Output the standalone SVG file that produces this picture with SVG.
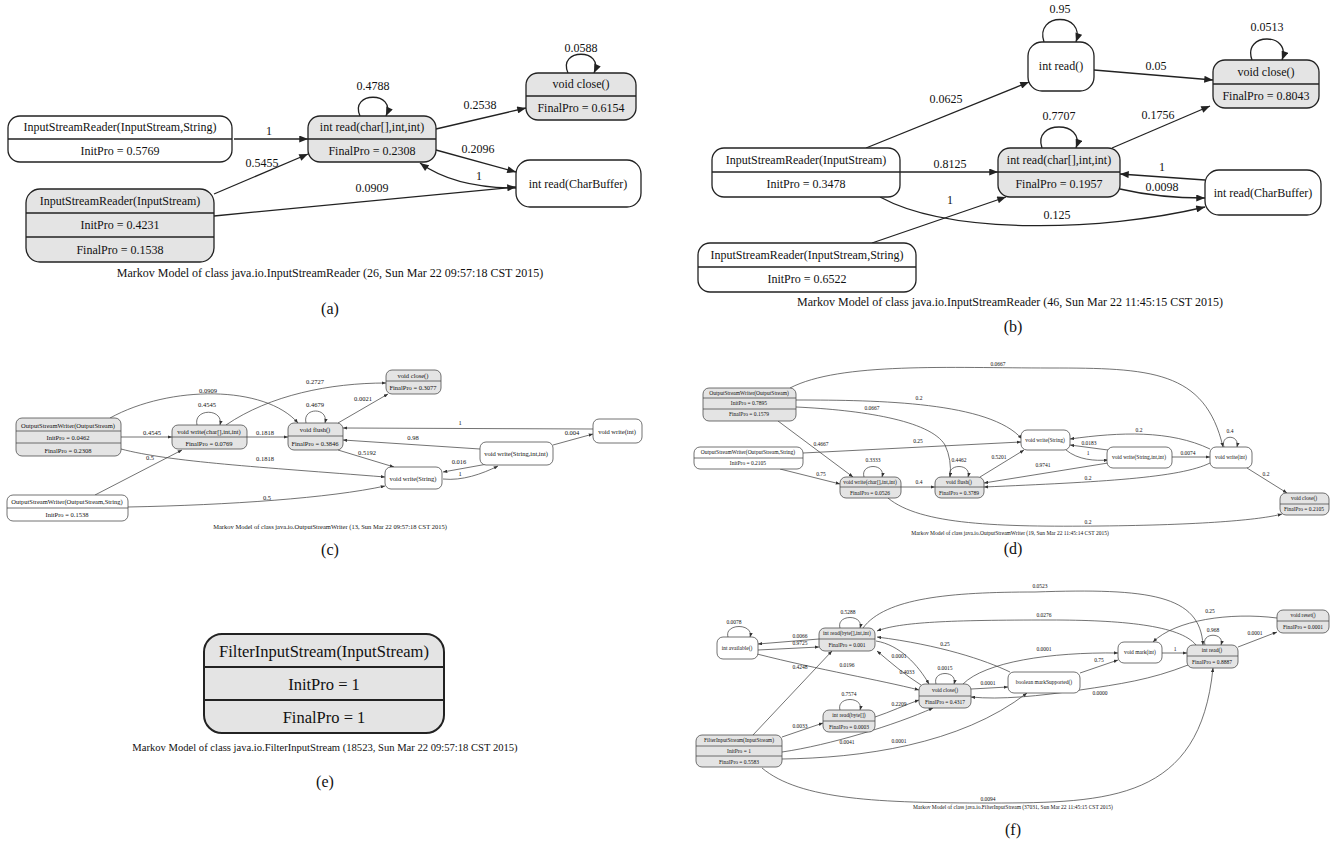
<svg xmlns="http://www.w3.org/2000/svg" width="1330" height="841" viewBox="0 0 1330 841">
<defs>
<style>
text{font-family:"Liberation Serif","Times New Roman",serif;text-anchor:middle;dominant-baseline:central;fill:#111}
.bw,.bg{stroke:#222;stroke-width:1.3}
.bw,.sw{fill:#fff}.bg,.sg{fill:#e4e4e4}
.sw,.sg{stroke:#444;stroke-width:0.75}
.dv{stroke:#222;stroke-width:1.3}
.ds{stroke:#444;stroke-width:0.75}
.eL path{fill:none;stroke:#222;stroke-width:1.3;marker-end:url(#A)}
.eS path{fill:none;stroke:#444;stroke-width:0.75;marker-end:url(#S)}
.ta text{font-size:12px}
.tc text{font-size:6.5px}
.td text{font-size:5.5px}
.tf text{font-size:5.5px}
.te text{font-size:16.5px}
</style>
<marker id="A" viewBox="0 0 10 8" refX="10" refY="4" markerWidth="10" markerHeight="7" markerUnits="userSpaceOnUse" orient="auto"><path d="M0,0L10,4L0,8z" fill="#222"/></marker>
<marker id="S" viewBox="0 0 10 8" refX="10" refY="4" markerWidth="4.5" markerHeight="3.4" markerUnits="userSpaceOnUse" orient="auto"><path d="M0,0L10,4L0,8z" fill="#333"/></marker>
</defs>
<rect width="1330" height="841" fill="#fff"/>

<!-- ===== (a) ===== -->
<g id="panel-a" class="ta">
<g id="a-edges" class="eL">
<path d="M234,139 L308,139"/>
<path d="M214,194 L308,154"/>
<path d="M214,216 L516,187"/>
<path d="M436,129 L526,108"/>
<path d="M436,150 L516,172"/>
<path d="M516,188 C478,188 445,181 420,163"/>
<path d="M360,116 C349,91 397,91 386,116"/>
<path d="M568,73 C557,48 605,48 594,73"/>
<text x="269" y="131">1</text>
<text x="262" y="163">0.5455</text>
<text x="372" y="188">0.0909</text>
<text x="480" y="105">0.2538</text>
<text x="478" y="149">0.2096</text>
<text x="479" y="176">1</text>
<text x="373" y="86">0.4788</text>
<text x="581" y="48">0.0588</text>
</g>
<g id="a-isr-string"><rect class="bw" x="8" y="116" width="224" height="46" rx="12"/><line class="dv" x1="8" y1="139" x2="232" y2="139"/><text x="120" y="127">InputStreamReader(InputStream,String)</text><text x="120" y="151">InitPro = 0.5769</text></g>
<g id="a-read-char"><rect class="bg" x="308" y="116" width="128" height="46" rx="12"/><line class="dv" x1="308" y1="139" x2="436" y2="139"/><text x="372" y="127">int read(char[],int,int)</text><text x="372" y="151">FinalPro = 0.2308</text></g>
<g id="a-close"><rect class="bg" x="526" y="73" width="110" height="47" rx="12"/><line class="dv" x1="526" y1="96" x2="636" y2="96"/><text x="581" y="84">void close()</text><text x="581" y="108">FinalPro = 0.6154</text></g>
<g id="a-read-charbuffer"><rect class="bw" x="516" y="160" width="125" height="47" rx="14"/><text x="578" y="184">int read(CharBuffer)</text></g>
<g id="a-isr"><rect class="bg" x="26" y="189" width="188" height="73" rx="14"/><line class="dv" x1="26" y1="213" x2="214" y2="213"/><line class="dv" x1="26" y1="237" x2="214" y2="237"/><text x="120" y="201">InputStreamReader(InputStream)</text><text x="120" y="225">InitPro = 0.4231</text><text x="120" y="250">FinalPro = 0.1538</text></g>
<text x="330" y="273">Markov Model of class java.io.InputStreamReader (26, Sun Mar 22 09:57:18 CST 2015)</text>
<text x="330" y="308" style="font-size:16px">(a)</text>
</g>

<!-- ===== (b) ===== -->
<g id="panel-b" class="ta">
<g id="b-edges" class="eL">
<path d="M866,148 L1029,82"/>
<path d="M1094,70 L1213,80"/>
<path d="M900,172 L998,172"/>
<path d="M872,243 L1006,197"/>
<path d="M1112,148 L1210,106"/>
<path d="M1205,180 L1120,174"/>
<path d="M1120,189 C1150,196 1180,198 1205,198"/>
<path d="M880,197 C950,235 1100,232 1205,207"/>
<path d="M1044,42 C1034,12 1086,12 1076,42"/>
<path d="M1252,60 C1242,32 1292,32 1282,60"/>
<path d="M1042,148 C1032,120 1086,120 1076,148"/>
<text x="946" y="99">0.0625</text>
<text x="1156" y="66">0.05</text>
<text x="950" y="164">0.8125</text>
<text x="950" y="200">1</text>
<text x="1158" y="115">0.1756</text>
<text x="1162" y="167">1</text>
<text x="1162" y="187">0.0098</text>
<text x="1057" y="215">0.125</text>
<text x="1060" y="9">0.95</text>
<text x="1267" y="27">0.0513</text>
<text x="1059" y="116">0.7707</text>
</g>
<g id="b-read"><rect class="bw" x="1028" y="42" width="66" height="49" rx="14"/><text x="1061" y="66">int read()</text></g>
<g id="b-close"><rect class="bg" x="1213" y="60" width="106" height="48" rx="12"/><line class="dv" x1="1213" y1="84" x2="1319" y2="84"/><text x="1266" y="72">void close()</text><text x="1266" y="96">FinalPro = 0.8043</text></g>
<g id="b-read-char"><rect class="bg" x="998" y="148" width="122" height="49" rx="12"/><line class="dv" x1="998" y1="172" x2="1120" y2="172"/><text x="1059" y="160">int read(char[],int,int)</text><text x="1059" y="184">FinalPro = 0.1957</text></g>
<g id="b-isr"><rect class="bw" x="712" y="148" width="188" height="49" rx="12"/><line class="dv" x1="712" y1="172" x2="900" y2="172"/><text x="806" y="160">InputStreamReader(InputStream)</text><text x="806" y="184">InitPro = 0.3478</text></g>
<g id="b-isr-string"><rect class="bw" x="698" y="243" width="218" height="49" rx="12"/><line class="dv" x1="698" y1="267" x2="916" y2="267"/><text x="807" y="255">InputStreamReader(InputStream,String)</text><text x="807" y="279">InitPro = 0.6522</text></g>
<g id="b-read-charbuffer"><rect class="bw" x="1205" y="170" width="116" height="45" rx="14"/><text x="1263" y="193">int read(CharBuffer)</text></g>
<text x="1010" y="302">Markov Model of class java.io.InputStreamReader (46, Sun Mar 22 11:45:15 CST 2015)</text>
<text x="1013" y="326" style="font-size:16px">(b)</text>
</g>

<!-- ===== (c) ===== -->
<g id="panel-c" class="tc">
<g id="c-edges" class="eS">
<path d="M121,437 L172,437"/>
<path d="M95,495 L182,450"/>
<path d="M110,418 C170,385 265,385 298,423"/>
<path d="M226,425 C270,395 330,383 386,383"/>
<path d="M247,437 L288,437"/>
<path d="M338,423 L388,394"/>
<path d="M338,450 L394,467"/>
<path d="M121,449 C170,462 260,467 385,477"/>
<path d="M128,507 C230,505 330,498 385,486"/>
<path d="M593,429 L343,428"/>
<path d="M480,449 L343,440"/>
<path d="M553,445 L593,434"/>
<path d="M493,463 L443,472"/>
<path d="M443,479 C462,481 482,474 498,466"/>
<path d="M197,425 C193,408 224,408 220,425"/>
<path d="M306,423 C302,407 329,407 325,423"/>
<text x="152" y="432">0.4545</text>
<text x="150" y="457">0.5</text>
<text x="208" y="390">0.0909</text>
<text x="315" y="381">0.2727</text>
<text x="265" y="432">0.1818</text>
<text x="363" y="398">0.0021</text>
<text x="367" y="452">0.5192</text>
<text x="265" y="458">0.1818</text>
<text x="267" y="497">0.5</text>
<text x="460" y="422">1</text>
<text x="413" y="437">0.98</text>
<text x="572" y="432">0.004</text>
<text x="459" y="461">0.016</text>
<text x="460" y="473">1</text>
<text x="207" y="404">0.4545</text>
<text x="315" y="404">0.4679</text>
</g>
<g id="c-osw"><rect class="sg" x="16" y="418" width="105" height="38" rx="6"/><line class="ds" x1="16" y1="431" x2="121" y2="431"/><line class="ds" x1="16" y1="443" x2="121" y2="443"/><text x="68" y="425">OutputStreamWriter(OutputStream)</text><text x="68" y="437">InitPro = 0.0462</text><text x="68" y="450">FinalPro = 0.2308</text></g>
<g id="c-write-char"><rect class="sg" x="172" y="425" width="75" height="24" rx="6"/><line class="ds" x1="172" y1="437" x2="247" y2="437"/><text x="209" y="431">void write(char[],int,int)</text><text x="209" y="443">FinalPro = 0.0769</text></g>
<g id="c-flush"><rect class="sg" x="288" y="423" width="55" height="27" rx="6"/><line class="ds" x1="288" y1="436" x2="343" y2="436"/><text x="315" y="429">void flush()</text><text x="315" y="443">FinalPro = 0.3846</text></g>
<g id="c-close"><rect class="sg" x="386" y="370" width="55" height="24" rx="6"/><line class="ds" x1="386" y1="381" x2="441" y2="381"/><text x="413" y="375">void close()</text><text x="413" y="387">FinalPro = 0.3077</text></g>
<g id="c-write-string"><rect class="sw" x="385" y="467" width="57" height="22" rx="6"/><text x="413" y="478">void write(String)</text></g>
<g id="c-write-string-ii"><rect class="sw" x="480" y="442" width="73" height="23" rx="6"/><text x="516" y="453">void write(String,int,int)</text></g>
<g id="c-write-int"><rect class="sw" x="593" y="419" width="49" height="24" rx="6"/><text x="617" y="431">void write(int)</text></g>
<g id="c-osw-string"><rect class="sw" x="7" y="495" width="121" height="26" rx="6"/><line class="ds" x1="7" y1="508" x2="128" y2="508"/><text x="67" y="501">OutputStreamWriter(OutputStream,String)</text><text x="67" y="514">InitPro = 0.1538</text></g>
<text x="330" y="526">Markov Model of class java.io.OutputStreamWriter (13, Sun Mar 22 09:57:18 CST 2015)</text>
<text x="330" y="549" style="font-size:16px">(c)</text>
</g>

<!-- ===== (d) ===== -->
<g id="panel-d" class="td">
<g id="d-edges" class="eS">
<path d="M790,388 C840,362 950,368 1050,368 C1150,368 1205,370 1223,447"/>
<path d="M796,400 C880,400 990,402 1022,439"/>
<path d="M796,407 C860,410 930,420 945,445 Q952,460 950,477"/>
<path d="M778,421 L853,477"/>
<path d="M803,453 L1021,442"/>
<path d="M780,469 L840,484"/>
<path d="M901,487 L935,487"/>
<path d="M888,498 C920,525 1000,527 1100,526 C1200,525 1260,520 1282,514"/>
<path d="M980,477 L1024,450"/>
<path d="M1108,450 L1070,445"/>
<path d="M1066,450 C1078,460 1095,461 1108,460"/>
<path d="M1108,463 L984,483"/>
<path d="M1210,463 C1180,478 1100,482 984,487"/>
<path d="M1210,449 C1170,430 1120,432 1070,439"/>
<path d="M1172,457 L1210,457"/>
<path d="M1247,468 L1287,493"/>
<path d="M864,477 C860,463 886,463 882,477"/>
<path d="M950,477 C946,463 972,463 968,477"/>
<path d="M1224,447 C1220,434 1240,434 1237,447"/>
<text x="998" y="364">0.0667</text>
<text x="919" y="398">0.2</text>
<text x="872" y="408">0.0667</text>
<text x="821" y="444">0.4667</text>
<text x="918" y="441">0.25</text>
<text x="821" y="474">0.75</text>
<text x="919" y="482">0.4</text>
<text x="1088" y="522">0.2</text>
<text x="999" y="457">0.5201</text>
<text x="1089" y="443">0.0183</text>
<text x="1088" y="453">1</text>
<text x="1043" y="465">0.9741</text>
<text x="1088" y="478">0.2</text>
<text x="1139" y="430">0.2</text>
<text x="1188" y="453">0.0074</text>
<text x="1266" y="474">0.2</text>
<text x="873" y="460">0.3333</text>
<text x="959" y="460">0.4462</text>
<text x="1230" y="431">0.4</text>
</g>
<g id="d-osw"><rect class="sg" x="703" y="388" width="93" height="33" rx="6"/><line class="ds" x1="703" y1="398" x2="796" y2="398"/><line class="ds" x1="703" y1="409" x2="796" y2="409"/><text x="749" y="393">OutputStreamWriter(OutputStream)</text><text x="749" y="403">InitPro = 0.7895</text><text x="749" y="414">FinalPro = 0.1579</text></g>
<g id="d-osw-string"><rect class="sw" x="694" y="447" width="109" height="22" rx="6"/><line class="ds" x1="694" y1="458" x2="803" y2="458"/><text x="748" y="452">OutputStreamWriter(OutputStream,String)</text><text x="748" y="463">InitPro = 0.2105</text></g>
<g id="d-write-char"><rect class="sg" x="840" y="477" width="61" height="21" rx="6"/><line class="ds" x1="840" y1="487" x2="901" y2="487"/><text x="870" y="482">void write(char[],int,int)</text><text x="870" y="493">FinalPro = 0.0526</text></g>
<g id="d-flush"><rect class="sg" x="935" y="477" width="49" height="21" rx="6"/><line class="ds" x1="935" y1="487" x2="984" y2="487"/><text x="959" y="482">void flush()</text><text x="959" y="493">FinalPro = 0.3789</text></g>
<g id="d-write-string"><rect class="sw" x="1021" y="430" width="49" height="20" rx="6"/><text x="1045" y="440">void write(String)</text></g>
<g id="d-write-string-ii"><rect class="sw" x="1107" y="447" width="65" height="21" rx="6"/><text x="1139" y="457">void write(String,int,int)</text></g>
<g id="d-write-int"><rect class="sw" x="1210" y="447" width="42" height="21" rx="6"/><text x="1231" y="457">void write(int)</text></g>
<g id="d-close"><rect class="sg" x="1280" y="493" width="49" height="22" rx="6"/><line class="ds" x1="1280" y1="504" x2="1329" y2="504"/><text x="1304" y="498">void close()</text><text x="1304" y="509">FinalPro = 0.2105</text></g>
<text x="1010" y="533">Markov Model of class java.io.OutputStreamWriter (19, Sun Mar 22 11:45:14 CST 2015)</text>
<text x="1013" y="548" style="font-size:16px">(d)</text>
</g>

<!-- ===== (e) ===== -->
<g id="panel-e" class="te">
<g id="e-filter"><rect x="204" y="634" width="240" height="99" rx="18" fill="#e4e4e4" stroke="#222" stroke-width="2"/><line x1="204" y1="667" x2="444" y2="667" stroke="#222" stroke-width="2"/><line x1="204" y1="700" x2="444" y2="700" stroke="#222" stroke-width="2"/><text x="324" y="651">FilterInputStream(InputStream)</text><text x="324" y="684">InitPro = 1</text><text x="324" y="717">FinalPro = 1</text></g>
<text x="325" y="747" style="font-size:10.6px">Markov Model of class java.io.FilterInputStream (18523, Sun Mar 22 09:57:18 CST 2015)</text>
<text x="325" y="781" style="font-size:16px">(e)</text>
</g>

<!-- ===== (f) ===== -->
<g id="panel-f" class="tf">
<g id="f-edges" class="eS">
<path d="M819,639 L758,644"/>
<path d="M758,650 L819,647"/>
<path d="M753,735 L832,651"/>
<path d="M757,654 C820,670 880,680 919,690"/>
<path d="M876,641 C900,645 918,665 929,684"/>
<path d="M921,685 C905,675 890,662 877,651"/>
<path d="M1010,672 C985,660 940,645 877,637"/>
<path d="M863,628 C885,598 950,592 1035,592 C1150,588 1200,595 1203,645"/>
<path d="M1196,645 C1180,625 1120,620 1050,620 C950,620 900,622 877,631"/>
<path d="M782,737 L823,723"/>
<path d="M875,717 C890,712 905,705 919,700"/>
<path d="M782,752 C830,745 895,725 933,708"/>
<path d="M782,759 C860,758 960,745 1027,693"/>
<path d="M762,768 C800,800 880,803 990,803 C1110,803 1200,800 1213,668"/>
<path d="M971,689 L1008,687"/>
<path d="M963,684 C985,662 1050,652 1118,653"/>
<path d="M1080,673 L1118,660"/>
<path d="M1188,665 C1150,680 1120,684 1080,690 C1040,696 1000,700 971,697"/>
<path d="M1162,653 L1187,653"/>
<path d="M1238,647 L1277,632"/>
<path d="M1277,618 C1230,612 1175,620 1153,642"/>
<path d="M728,637 C724,623 754,623 750,637"/>
<path d="M840,628 C836,614 864,614 860,628"/>
<path d="M840,710 C836,696 864,696 860,710"/>
<path d="M936,684 C932,670 958,670 954,684"/>
<path d="M1205,645 C1201,632 1225,632 1221,645"/>
<text x="800" y="636">0.0066</text>
<text x="800" y="643">0.9725</text>
<text x="800" y="667">0.4248</text>
<text x="847" y="665">0.0196</text>
<text x="899" y="656">0.0001</text>
<text x="907" y="672">0.4033</text>
<text x="945" y="644">0.25</text>
<text x="1040" y="586">0.0523</text>
<text x="1044" y="615">0.0276</text>
<text x="800" y="726">0.0033</text>
<text x="899" y="704">0.2209</text>
<text x="847" y="742">0.0041</text>
<text x="899" y="741">0.0001</text>
<text x="988" y="799">0.0094</text>
<text x="988" y="683">0.0001</text>
<text x="1044" y="649">0.0001</text>
<text x="1099" y="660">0.75</text>
<text x="1100" y="693">0.0000</text>
<text x="1175" y="649">1</text>
<text x="1255" y="633">0.0001</text>
<text x="1210" y="611">0.25</text>
<text x="734" y="622">0.0078</text>
<text x="848" y="612">0.5288</text>
<text x="849" y="694">0.7574</text>
<text x="945" y="668">0.0015</text>
<text x="1213" y="630">0.968</text>
</g>
<g id="f-available"><rect class="sw" x="717" y="637" width="41" height="22" rx="6"/><text x="737" y="648">int available()</text></g>
<g id="f-read-bii"><rect class="sg" x="819" y="628" width="56" height="23" rx="6"/><line class="ds" x1="819" y1="639" x2="875" y2="639"/><text x="847" y="633">int read(byte[],int,int)</text><text x="847" y="645">FinalPro = 0.001</text></g>
<g id="f-read-b"><rect class="sg" x="823" y="710" width="52" height="22" rx="6"/><line class="ds" x1="823" y1="721" x2="875" y2="721"/><text x="849" y="715">int read(byte[])</text><text x="849" y="727">FinalPro = 0.0003</text></g>
<g id="f-filter"><rect class="sg" x="696" y="735" width="86" height="32" rx="6"/><line class="ds" x1="696" y1="746" x2="782" y2="746"/><line class="ds" x1="696" y1="756" x2="782" y2="756"/><text x="739" y="740">FilterInputStream(InputStream)</text><text x="739" y="751">InitPro = 1</text><text x="739" y="762">FinalPro = 0.5583</text></g>
<g id="f-close"><rect class="sg" x="919" y="684" width="52" height="24" rx="6"/><line class="ds" x1="919" y1="696" x2="971" y2="696"/><text x="945" y="690">void close()</text><text x="945" y="702">FinalPro = 0.4317</text></g>
<g id="f-marksupported"><rect class="sw" x="1008" y="672" width="72" height="21" rx="6"/><text x="1044" y="682">boolean markSupported()</text></g>
<g id="f-mark"><rect class="sw" x="1118" y="642" width="44" height="21" rx="6"/><text x="1140" y="652">void mark(int)</text></g>
<g id="f-read"><rect class="sg" x="1187" y="645" width="51" height="23" rx="6"/><line class="ds" x1="1187" y1="656" x2="1238" y2="656"/><text x="1212" y="650">int read()</text><text x="1212" y="662">FinalPro = 0.8887</text></g>
<g id="f-reset"><rect class="sg" x="1277" y="610" width="52" height="23" rx="6"/><line class="ds" x1="1277" y1="621" x2="1329" y2="621"/><text x="1303" y="615">void reset()</text><text x="1303" y="627">FinalPro = 0.0001</text></g>
<text x="1013" y="807">Markov Model of class java.io.FilterInputStream (37031, Sun Mar 22 11:45:15 CST 2015)</text>
<text x="1013" y="829" style="font-size:16px">(f)</text>
</g>
</svg>
